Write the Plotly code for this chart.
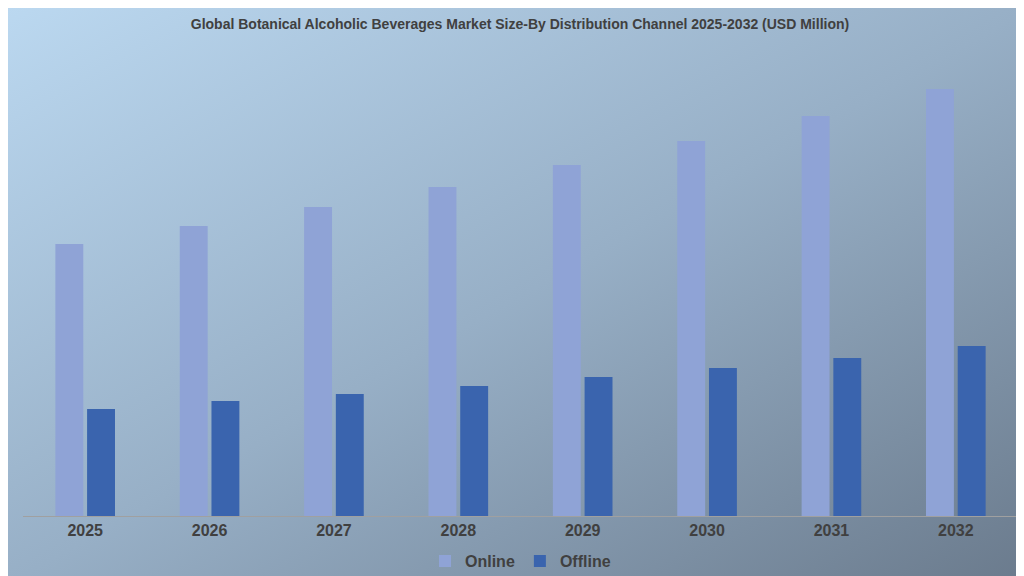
import plotly.graph_objects as go
import base64

years = ["2025", "2026", "2027", "2028", "2029", "2030", "2031", "2032"]
online = [272, 290, 309, 329, 351, 375, 400, 427]
offline = [107, 115, 122, 130, 139, 148, 158, 170]

W, H = 1024, 576
L, R, T, B = 15, 14, 40, 68
pw, ph = W - L - R, H - T - B

svg = ('<svg xmlns="http://www.w3.org/2000/svg" width="1024" height="576" preserveAspectRatio="none">'
       '<defs><linearGradient id="g" x1="0" y1="0" x2="1" y2="1">'
       '<stop offset="0" stop-color="#BBD8F0"/><stop offset="0.5" stop-color="#97AFC6"/>'
       '<stop offset="1" stop-color="#6A7A8C"/></linearGradient></defs>'
       '<rect width="1024" height="576" fill="url(#g)"/></svg>')
src = "data:image/svg+xml;base64," + base64.b64encode(svg.encode()).decode()

fig = go.Figure()
fig.add_bar(x=years, y=online, name="Online", marker_color="#8FA3D6", marker_line_width=0)
fig.add_bar(x=years, y=offline, name="Offline", marker_color="#3A64AE", marker_line_width=0)
fig.update_layout(
    width=W, height=H,
    paper_bgcolor="#8FA5BC", plot_bgcolor="rgba(0,0,0,0)",
    images=[dict(source=src, xref="paper", yref="paper", x=-L / pw, y=1 + T / ph,
                 sizex=W / pw, sizey=H / ph,
                 xanchor="left", yanchor="top", sizing="stretch", layer="below")],
    margin=dict(l=L, r=R, t=T, b=B, autoexpand=False),
    title=dict(text="<b>Global Botanical Alcoholic Beverages Market Size-By Distribution Channel 2025-2032 (USD Million)</b>",
               x=0.5, y=0.972, xanchor="center", yanchor="middle",
               font=dict(family="Arial, Liberation Sans", size=14, color="#404040")),
    barmode="group", bargap=0.49, bargroupgap=0.12,
    xaxis=dict(showline=True, linecolor="#A0A0A0", linewidth=1, ticks="", automargin=False,
               tickfont=dict(family="Arial, Liberation Sans", size=16, color="#404040", weight="bold")),
    yaxis=dict(visible=False, range=[0, 468], automargin=False),
    legend=dict(orientation="h", x=0.5, xanchor="center", y=-0.06, yanchor="top",
                font=dict(family="Arial, Liberation Sans", size=16, color="#404040", weight="bold"),
                bgcolor="rgba(0,0,0,0)", itemwidth=30),
    showlegend=True,
)
fig.write_html("out.html")
